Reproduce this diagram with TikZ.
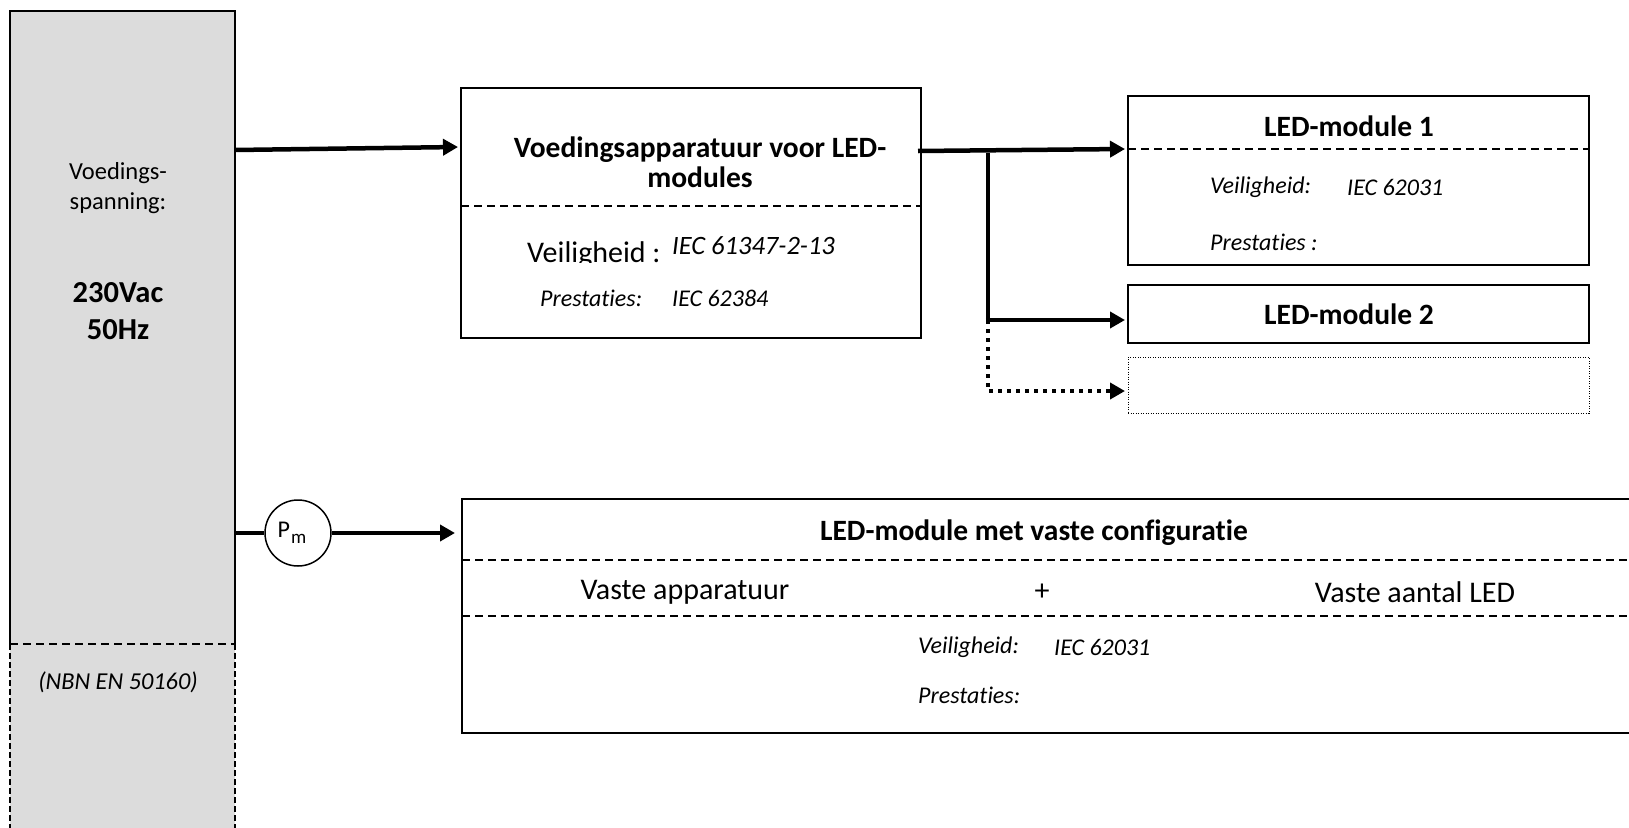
\documentclass[tikz,border=0pt]{standalone}
\usepackage{fontspec}
\setmainfont{Carlito}[Ligatures=NoCommon]
\usetikzlibrary{arrows.meta}
\definecolor{srcgray}{RGB}{220,220,220}
\begin{document}
\begin{tikzpicture}[x=1pt,y=-1pt,
  box/.style={draw,line width=2pt,anchor=north west,inner sep=0pt,outer sep=0pt},
  conn/.style={line width=4.5pt,-{Triangle[length=15pt,width=16pt]}},
  dconn/.style={line width=4.5pt,dash pattern=on 4pt off 5pt,-{Triangle[length=15pt,width=16pt]}},
  sep/.style={line width=1.5pt,dash pattern=on 8pt off 5pt},
  txt/.style={inner sep=0pt,font=\fontsize{30}{32}\selectfont},
  ttl/.style={inner sep=0pt,align=center,font=\fontsize{29.5}{30}\selectfont\bfseries},
  sm/.style={inner sep=0pt,anchor=west,font=\fontsize{24}{26}\selectfont\itshape},
]
\clip (0,0) rectangle (1629,827);
\fill[white] (0,0) rectangle (1629,827);

% supply block
\node[fill=srcgray,minimum width=225pt,minimum height=840pt,anchor=north west,inner sep=0pt,outer sep=0pt] (src) at (10,11) {};
\draw[line width=1.5pt] (src.west |- 0,644) -- (src.north west) -- (src.north east) -- (src.east |- 0,644);
\draw[sep] (src.west |- 0,644) -- (src.east |- 0,644);
\draw[line width=1.8pt,dash pattern=on 6pt off 3pt] (src.west |- 0,644) -- (src.south west);
\draw[line width=1.8pt,dash pattern=on 6pt off 3pt] (src.east |- 0,644) -- (src.south east);
\node[inner sep=0pt,align=center,font=\fontsize{24.5}{30}\selectfont] (srct) at (118,188) {Voedings-\\spanning:};
\node[inner sep=0pt,align=center,font=\fontsize{30.5}{37}\selectfont\bfseries] (srcv) at (118,311) {230Vac\\50Hz};
\node[inner sep=0pt,font=\fontsize{24.3}{28}\selectfont\itshape] (srcn) at (118,682) {(NBN EN 50160)};

% driver box
\node[box,minimum width=460pt,minimum height=250pt] (vb) at (461,88) {};
\draw[sep] (vb.west |- 0,206) -- (vb.east |- 0,206);
\node[ttl] (vbt) at (700,162) {Voedingsapparatuur voor LED-\\modules};
\begin{scope}
\clip (470,215) rectangle (900,262.5);
\node[txt,anchor=base west] (vbv) at (527,262) {Veiligheid :};
\end{scope}
\node[inner sep=0pt,anchor=west,font=\fontsize{26.5}{28}\selectfont\itshape] (vbvi) at (672,246) {IEC 61347-2-13};
\node[sm] (vbp) at (540,298) {Prestaties:};
\node[sm] (vbpi) at (672,298) {IEC 62384};

% LED modules
\node[box,minimum width=461pt,minimum height=169pt] (led1) at (1128,96) {};
\draw[sep] (led1.west |- 0,149) -- (led1.east |- 0,149);
\node[ttl] (led1t) at (1349,126) {LED-module 1};
\node[sm] (led1v) at (1210,187) {Veiligheid:};
\node[sm] (led1vi) at (1347,187) {IEC 62031};
\node[sm] (led1p) at (1210,242) {Prestaties :};

\node[box,minimum width=461pt,minimum height=58pt] (led2) at (1128,285) {};
\node[ttl] (led2t) at (1349,314) {LED-module 2};

\node[draw,line width=1pt,dash pattern=on 1pt off 1.5pt,anchor=north west,inner sep=0pt,outer sep=0pt,minimum width=461pt,minimum height=56pt] (led3) at (1128,357) {};

% connectors top
\draw[conn] (src.east |- 0,150) -- ([xshift=-3pt]vb.west |- 0,147);
\coordinate (br) at (988,151);
\coordinate (br2) at (988,320);
\coordinate (br3) at (988,391);
\draw[conn] ([xshift=-3pt]vb.east |- 0,151) -- ([xshift=-3pt]led1.west |- 0,149);
\draw[line width=4.5pt] ([yshift=-2pt]br) -- (br2);
\draw[conn] ([xshift=-2.25pt]br2) -- ([xshift=-3pt]led2.west |- br2);
\draw[dconn] (br2) -- (br3) -- ([xshift=-3pt]led3.west |- br3);

% fixed configuration module
\node[anchor=north west,inner sep=0pt,outer sep=0pt,minimum width=1200pt,minimum height=234pt] (fix) at (462,499) {};
\draw[line width=2pt] (fix.north east) -- (fix.north west) -- (fix.south west) -- (fix.south east);
\draw[sep] (fix.west |- 0,560) -- (fix.east |- 0,560);
\draw[sep] (fix.west |- 0,616) -- (fix.east |- 0,616);
\node[ttl] (fixt) at (1034,533) {LED-module met vaste configuratie};
\node[txt] (fixa) at (685,592) {Vaste apparatuur};
\node[txt] (fixp) at (1042,592) {+};
\node[txt] (fixl) at (1415,592) {Vaste aantal LED};
\node[sm] (fixv) at (918,647) {Veiligheid:};
\node[sm] (fixvi) at (1054,647) {IEC 62031};
\node[sm] (fixpr) at (918,695) {Prestaties:};

% Pm
\node[draw,circle,line width=1.5pt,minimum size=66pt,inner sep=0pt,font=\fontsize{24}{28}\selectfont] (pm) at (298,533) {P\kern1pt\raisebox{-6pt}{\fontsize{19}{20}\selectfont m}\kern12pt};
\draw[line width=4.5pt] (src.east |- pm) -- (pm.west);
\draw[conn] (pm.east) -- ([xshift=-7pt]fix.west |- pm);
\end{tikzpicture}
\end{document}
